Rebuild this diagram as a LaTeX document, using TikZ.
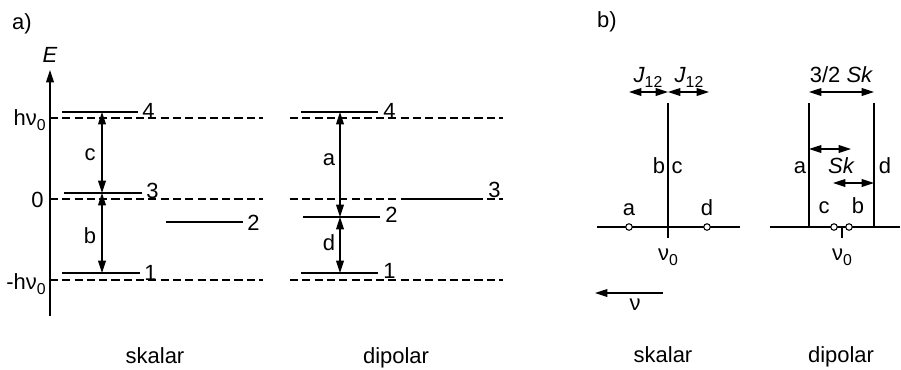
\documentclass[tikz,border=0pt]{standalone}
\usepackage{fontspec}
\setmainfont{Liberation Sans}
\usetikzlibrary{arrows.meta}
\newcommand{\lowidx}[1]{\raisebox{-3pt}{\fontsize{9}{9}\selectfont #1}}
\tikzset{
  lvl/.style={line width=0.6pt},
  ref/.style={line width=0.6pt,dash pattern=on 4.6pt off 2.4pt},
  trans/.style={line width=0.6pt,{Triangle[length=7pt,width=4.4pt]}-{Triangle[length=7pt,width=4.4pt]}},
  lbl/.style={inner sep=0pt},
  dot/.style={circle,draw,line width=0.6pt,fill=white,inner sep=0pt,minimum size=0.13cm},
}

\begin{document}
\begin{tikzpicture}[x=0.02cm,y=-0.02cm,font=\fontsize{12.5}{14}\selectfont]
\useasboundingbox (0,0) rectangle (901,369);
% panel labels
\node[lbl] (pa) at (22,24) {a)};
\node[lbl] (pb) at (607,22) {b)};
% energy axis
\coordinate (Ebot) at (50,316);
\coordinate (Etop) at (50,70);
\draw[lvl,-{Triangle[length=7pt,width=4.4pt]}] (Ebot) -- (Etop);
\node[lbl] (E) at (50,55) {\itshape E};
\foreach \y in {118,199,280}{
  \draw[ref] (50,\y) -- (263,\y);
  \draw[ref] (290,\y) -- (503,\y);
}
\node[lbl,anchor=base east] (hv) at (46,125) {hν\lowidx{0}};
\node[lbl,anchor=base east] (zero) at (44,207) {0};
\node[lbl,anchor=base east] (mhv) at (46,289) {-hν\lowidx{0}};
% skalar levels
\foreach \n/\xa/\xb/\y/\yl in {4/62/138/112/118, 3/64/142/193/198, 2/166/243/222/230, 1/62/140/273/280}{
  \draw[lvl] (\xa,\y) -- (\xb,\y);
  \node[lbl,anchor=base west] (s\n) at (\xb+4,\yl) {\n};
}
\coordinate (t4) at (102,112);
\coordinate (t3) at (102,193);
\coordinate (t1) at (102,273);
\draw[trans] (t4) -- (t3);
\draw[trans] (t3) -- (t1);
\node[lbl,anchor=base] (lc) at (90,160) {c};
\node[lbl,anchor=base] (lb) at (90,243) {b};
% dipolar levels
\foreach \n/\xa/\xb/\y/\yl in {4/301/378/112/118, 3/405/483/199/197, 2/303/380/217/222, 1/301/378/273/278}{
  \draw[lvl] (\xa,\y) -- (\xb,\y);
  \node[lbl,anchor=base west] (d\n) at (\xb+5,\yl) {\n};
}
\coordinate (u4) at (340,112);
\coordinate (u2) at (340,217);
\coordinate (u1) at (340,273);
\draw[trans] (u4) -- (u2);
\draw[trans] (u2) -- (u1);
\node[lbl,anchor=base] (la) at (329,165) {a};
\node[lbl,anchor=base] (ld) at (329,250) {d};
\node[lbl,anchor=base] (ska) at (155,363) {skalar};
\node[lbl,anchor=base] (dipa) at (396,363) {dipolar};

% b) skalar spectrum
\draw[lvl] (597,227) -- (740,227);
\draw[lvl] (668,103) -- (668,238);
\node[dot] (ca) at (629,227) {};
\node[dot] (cd) at (707,227) {};
\node[lbl,anchor=base] (sa) at (629,215) {a};
\node[lbl,anchor=base] (sd) at (707,215) {d};
\node[lbl,anchor=base] (sb) at (659,173) {b};
\node[lbl,anchor=base] (sc) at (677,173) {c};
\coordinate (j0) at (629,92);
\coordinate (j1) at (668,92);
\coordinate (j2) at (709,92);
\draw[trans] (j0) -- (j1);
\draw[trans] (j1) -- (j2);
\node[lbl,anchor=base] (jl) at (648,82) {\itshape J\upshape\lowidx{12}};
\node[lbl,anchor=base] (jr) at (689,82) {\itshape J\upshape\lowidx{12}};
\node[lbl,anchor=base] (nus) at (668,260) {ν\lowidx{0}};
\coordinate (nu0) at (663,293);
\coordinate (nu1) at (595,293);
\draw[lvl,-{Triangle[length=7pt,width=4.4pt]}] (nu0) -- (nu1);
\node[lbl,anchor=base] (nu) at (635,310) {ν};
\node[lbl,anchor=base] (skb) at (663,362) {skalar};

% b) dipolar spectrum
\draw[lvl] (770,227) -- (900,227);
\draw[lvl] (809,103) -- (809,227);
\draw[lvl] (874,103) -- (874,227);
\draw[lvl] (842,227) -- (842,238);
\node[dot] (cc) at (834,227) {};
\node[dot] (cb) at (849,227) {};
\node[lbl,anchor=base] (qa) at (800,173) {a};
\node[lbl,anchor=base] (qd) at (885,173) {d};
\node[lbl,anchor=base] (qc) at (824,213) {c};
\node[lbl,anchor=base] (qb) at (858,213) {b};
\coordinate (k0) at (809,92);
\coordinate (k1) at (874,92);
\draw[trans] (k0) -- (k1);
\node[lbl,anchor=base] (k32) at (841,82) {3/2 \itshape Sk};
\coordinate (m0) at (809,149);
\coordinate (m1) at (851,149);
\coordinate (n0) at (833,183);
\coordinate (n1) at (874,183);
\draw[trans] (m0) -- (m1);
\draw[trans] (n0) -- (n1);
\node[lbl,anchor=base] (sk) at (841,173) {\itshape Sk};
\node[lbl,anchor=base] (nud) at (842,260) {ν\lowidx{0}};
\node[lbl,anchor=base] (dipb) at (841,362) {dipolar};
\end{tikzpicture}
\end{document}
